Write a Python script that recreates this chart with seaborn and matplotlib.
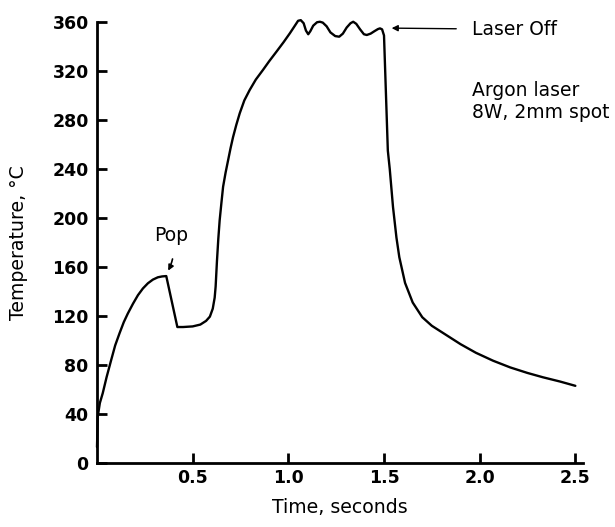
import matplotlib
matplotlib.use("Agg")
import matplotlib.pyplot as plt
import seaborn as sns
import pandas as pd

# Data
time_s = [0.0, 0.004, 0.015, 0.03, 0.05, 0.074, 0.095, 0.118, 0.14, 0.161, 0.188, 0.214, 0.24,
          0.266, 0.292, 0.318, 0.34, 0.362,
          0.42, 0.45, 0.50, 0.54, 0.57, 0.59, 0.605, 0.615, 0.62, 0.627, 0.634, 0.641, 0.65,
          0.659, 0.672, 0.685, 0.698, 0.711, 0.728, 0.746, 0.77, 0.798, 0.83, 0.868, 0.90,
          0.938, 0.975, 1.008, 1.03, 1.051, 1.065, 1.08, 1.092,
          1.104, 1.115, 1.13, 1.15, 1.165, 1.18, 1.20, 1.22, 1.245, 1.266, 1.285, 1.305, 1.325,
          1.339, 1.355, 1.375, 1.395, 1.41, 1.43, 1.45, 1.468, 1.479, 1.49, 1.50,
          1.52, 1.53, 1.547, 1.565, 1.58, 1.61, 1.65, 1.70, 1.75, 1.81, 1.90, 1.98, 2.07,
          2.16, 2.25, 2.33, 2.42, 2.50]
temperature_c = [13, 38, 49, 57, 70, 84, 96, 106, 115, 122, 130, 137, 142.5,
                 146.7, 149.7, 151.6, 152.3, 152.6,
                 111, 111, 111.5, 113, 116, 119.5, 126, 135, 144, 165, 183, 198, 212,
                 225.5, 237, 247, 257, 266, 276, 285.5, 296, 304.5, 313, 321, 328,
                 335.8, 343.5, 350.8, 356, 361, 361.5, 359, 353,
                 350, 352.5, 357, 359.8, 360.2, 359.5, 356.5, 351.5, 348.5, 348, 350.5, 355.5, 359,
                 360.2, 358.5, 354, 350, 349.4, 350.5, 352.5, 354.2, 354.8, 354, 349,
                 255, 240, 209, 184, 168, 147, 131, 119, 112, 106, 97, 90, 83.5,
                 78, 73.5, 70, 66.5, 63]

x_ticks = [0.5, 1.0, 1.5, 2.0, 2.5]
x_tick_labels = ["0.5", "1.0", "1.5", "2.0", "2.5"]
y_ticks = [0, 40, 80, 120, 160, 200, 240, 280, 320, 360]

df = pd.DataFrame({"Time": time_s, "Temperature": temperature_c})

sns.set_style("ticks")
plt.rcParams["font.family"] = ["DejaVu Sans"]
plt.rcParams["text.color"] = "black"
plt.rcParams["axes.labelcolor"] = "black"
plt.rcParams["xtick.color"] = "black"
plt.rcParams["ytick.color"] = "black"

fig = plt.figure(figsize=(6.15, 5.27), dpi=100)
ax = fig.add_axes([97 / 615, 1 - 463 / 527, (583 - 97) / 615, (463 - 22) / 527])

sns.lineplot(data=df, x="Time", y="Temperature", ax=ax, color="black", linewidth=1.7,
             sort=False, estimator=None)
for ln in ax.lines:
    ln.set_clip_on(False)
    ln.set_solid_joinstyle("round")

ax.set_xlim(0, 2.54)
ax.set_ylim(0, 360)
ax.set_xticks(x_ticks)
ax.set_xticklabels(x_tick_labels)
ax.set_yticks(y_ticks)
for lab in ax.get_xticklabels() + ax.get_yticklabels():
    lab.set_fontweight("bold")
    lab.set_fontsize(12.5)
    lab.set_color("black")

ax.tick_params(axis="both", direction="in", length=7, width=2, color="black")
ax.tick_params(axis="x", pad=4)
ax.tick_params(axis="y", pad=6)

for side in ["top", "right"]:
    ax.spines[side].set_visible(False)
for side in ["left", "bottom"]:
    ax.spines[side].set_linewidth(2)
    ax.spines[side].set_color("black")

ax.set_xlabel("Time, seconds", fontsize=13.6, color="black")
ax.set_ylabel("Temperature, °C", fontsize=13.6, color="black")
ax.xaxis.set_label_coords(0.5, -0.08)
ax.yaxis.set_label_coords(-0.142, 0.5)

ax.annotate("Laser Off", xy=(1.54, 355), xytext=(1.96, 354), fontsize=13.5,
            ha="left", va="center", color="black",
            arrowprops=dict(arrowstyle="-|>", color="black", lw=1.0,
                            shrinkA=9, shrinkB=0, mutation_scale=9))
ax.text(1.96, 295.5, "Argon laser\n8W, 2mm spot", fontsize=13.5, ha="left", va="center",
        linespacing=1.2, color="black")
ax.annotate("Pop", xy=(0.372, 157), xytext=(0.39, 186), fontsize=13.5,
            ha="center", va="center", color="black",
            arrowprops=dict(arrowstyle="-|>", color="black", lw=1.2,
                            shrinkA=8, shrinkB=0, mutation_scale=8,
                            connectionstyle="arc3,rad=-0.2"))

fig.savefig("out.png", dpi=100)
